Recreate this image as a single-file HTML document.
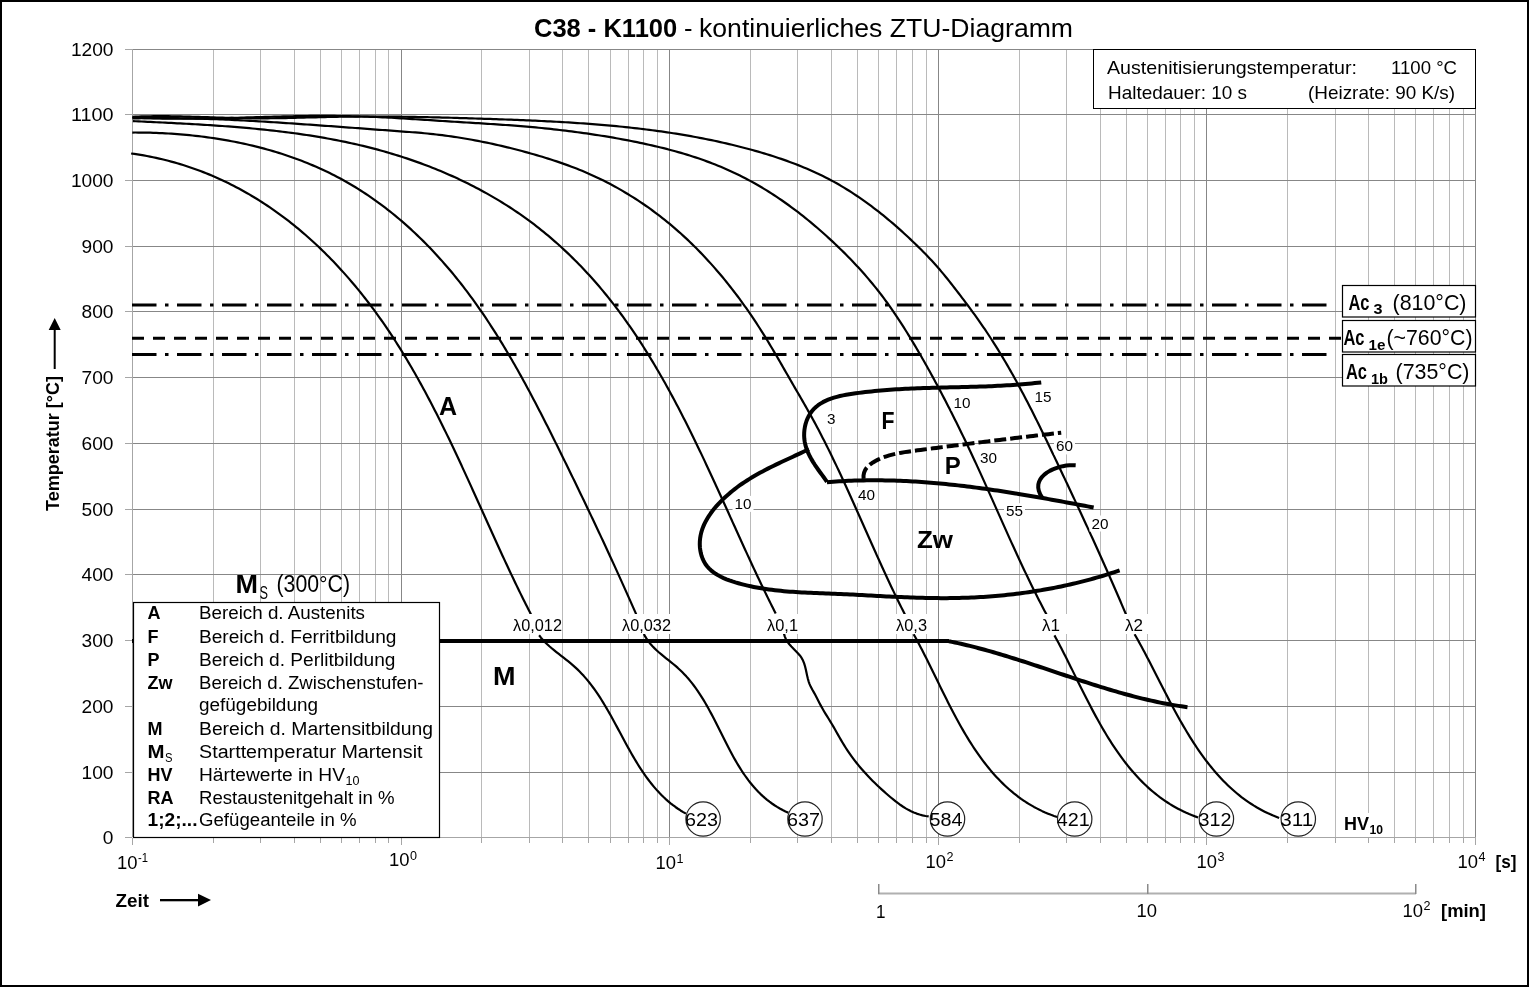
<!DOCTYPE html>
<html><head><meta charset="utf-8"><style>html,body{margin:0;padding:0;background:#fff;overflow:hidden}svg{display:block;will-change:transform}text{fill:#000}</style></head>
<body><svg width="1529" height="987" viewBox="0 0 1529 987" font-family='"Liberation Sans", sans-serif' >
<rect x="0" y="0" width="1529" height="987" fill="#fff"/>
<rect x="132" y="49" width="1" height="788" fill="#a6a6a6"/>
<rect x="132" y="838" width="1" height="7" fill="#a6a6a6"/>
<rect x="213" y="49" width="1" height="788" fill="#bababa"/>
<rect x="213" y="838" width="1" height="5" fill="#a6a6a6"/>
<rect x="260" y="49" width="1" height="788" fill="#bababa"/>
<rect x="260" y="838" width="1" height="5" fill="#a6a6a6"/>
<rect x="294" y="49" width="1" height="788" fill="#bababa"/>
<rect x="294" y="838" width="1" height="5" fill="#a6a6a6"/>
<rect x="320" y="49" width="1" height="788" fill="#bababa"/>
<rect x="320" y="838" width="1" height="5" fill="#a6a6a6"/>
<rect x="341" y="49" width="1" height="788" fill="#bababa"/>
<rect x="341" y="838" width="1" height="5" fill="#a6a6a6"/>
<rect x="359" y="49" width="1" height="788" fill="#bababa"/>
<rect x="359" y="838" width="1" height="5" fill="#a6a6a6"/>
<rect x="375" y="49" width="1" height="788" fill="#bababa"/>
<rect x="375" y="838" width="1" height="5" fill="#a6a6a6"/>
<rect x="388" y="49" width="1" height="788" fill="#bababa"/>
<rect x="388" y="838" width="1" height="5" fill="#a6a6a6"/>
<rect x="401" y="49" width="1" height="788" fill="#878787"/>
<rect x="401" y="838" width="1" height="7" fill="#a6a6a6"/>
<rect x="481" y="49" width="1" height="788" fill="#bababa"/>
<rect x="481" y="838" width="1" height="5" fill="#a6a6a6"/>
<rect x="529" y="49" width="1" height="788" fill="#bababa"/>
<rect x="529" y="838" width="1" height="5" fill="#a6a6a6"/>
<rect x="562" y="49" width="1" height="788" fill="#bababa"/>
<rect x="562" y="838" width="1" height="5" fill="#a6a6a6"/>
<rect x="588" y="49" width="1" height="788" fill="#bababa"/>
<rect x="588" y="838" width="1" height="5" fill="#a6a6a6"/>
<rect x="610" y="49" width="1" height="788" fill="#bababa"/>
<rect x="610" y="838" width="1" height="5" fill="#a6a6a6"/>
<rect x="628" y="49" width="1" height="788" fill="#bababa"/>
<rect x="628" y="838" width="1" height="5" fill="#a6a6a6"/>
<rect x="643" y="49" width="1" height="788" fill="#bababa"/>
<rect x="643" y="838" width="1" height="5" fill="#a6a6a6"/>
<rect x="657" y="49" width="1" height="788" fill="#bababa"/>
<rect x="657" y="838" width="1" height="5" fill="#a6a6a6"/>
<rect x="669" y="49" width="1" height="788" fill="#878787"/>
<rect x="669" y="838" width="1" height="7" fill="#a6a6a6"/>
<rect x="750" y="49" width="1" height="788" fill="#bababa"/>
<rect x="750" y="838" width="1" height="5" fill="#a6a6a6"/>
<rect x="797" y="49" width="1" height="788" fill="#bababa"/>
<rect x="797" y="838" width="1" height="5" fill="#a6a6a6"/>
<rect x="831" y="49" width="1" height="788" fill="#bababa"/>
<rect x="831" y="838" width="1" height="5" fill="#a6a6a6"/>
<rect x="857" y="49" width="1" height="788" fill="#bababa"/>
<rect x="857" y="838" width="1" height="5" fill="#a6a6a6"/>
<rect x="878" y="49" width="1" height="788" fill="#bababa"/>
<rect x="878" y="838" width="1" height="5" fill="#a6a6a6"/>
<rect x="896" y="49" width="1" height="788" fill="#bababa"/>
<rect x="896" y="838" width="1" height="5" fill="#a6a6a6"/>
<rect x="912" y="49" width="1" height="788" fill="#bababa"/>
<rect x="912" y="838" width="1" height="5" fill="#a6a6a6"/>
<rect x="926" y="49" width="1" height="788" fill="#bababa"/>
<rect x="926" y="838" width="1" height="5" fill="#a6a6a6"/>
<rect x="938" y="49" width="1" height="788" fill="#878787"/>
<rect x="938" y="838" width="1" height="7" fill="#a6a6a6"/>
<rect x="1019" y="49" width="1" height="788" fill="#bababa"/>
<rect x="1019" y="838" width="1" height="5" fill="#a6a6a6"/>
<rect x="1066" y="49" width="1" height="788" fill="#bababa"/>
<rect x="1066" y="838" width="1" height="5" fill="#a6a6a6"/>
<rect x="1100" y="49" width="1" height="788" fill="#bababa"/>
<rect x="1100" y="838" width="1" height="5" fill="#a6a6a6"/>
<rect x="1126" y="49" width="1" height="788" fill="#bababa"/>
<rect x="1126" y="838" width="1" height="5" fill="#a6a6a6"/>
<rect x="1147" y="49" width="1" height="788" fill="#bababa"/>
<rect x="1147" y="838" width="1" height="5" fill="#a6a6a6"/>
<rect x="1165" y="49" width="1" height="788" fill="#bababa"/>
<rect x="1165" y="838" width="1" height="5" fill="#a6a6a6"/>
<rect x="1180" y="49" width="1" height="788" fill="#bababa"/>
<rect x="1180" y="838" width="1" height="5" fill="#a6a6a6"/>
<rect x="1194" y="49" width="1" height="788" fill="#bababa"/>
<rect x="1194" y="838" width="1" height="5" fill="#a6a6a6"/>
<rect x="1206" y="49" width="1" height="788" fill="#878787"/>
<rect x="1206" y="838" width="1" height="7" fill="#a6a6a6"/>
<rect x="1287" y="49" width="1" height="788" fill="#bababa"/>
<rect x="1287" y="838" width="1" height="5" fill="#a6a6a6"/>
<rect x="1335" y="49" width="1" height="788" fill="#bababa"/>
<rect x="1335" y="838" width="1" height="5" fill="#a6a6a6"/>
<rect x="1368" y="49" width="1" height="788" fill="#bababa"/>
<rect x="1368" y="838" width="1" height="5" fill="#a6a6a6"/>
<rect x="1394" y="49" width="1" height="788" fill="#bababa"/>
<rect x="1394" y="838" width="1" height="5" fill="#a6a6a6"/>
<rect x="1415" y="49" width="1" height="788" fill="#bababa"/>
<rect x="1415" y="838" width="1" height="5" fill="#a6a6a6"/>
<rect x="1433" y="49" width="1" height="788" fill="#bababa"/>
<rect x="1433" y="838" width="1" height="5" fill="#a6a6a6"/>
<rect x="1449" y="49" width="1" height="788" fill="#bababa"/>
<rect x="1449" y="838" width="1" height="5" fill="#a6a6a6"/>
<rect x="1463" y="49" width="1" height="788" fill="#bababa"/>
<rect x="1463" y="838" width="1" height="5" fill="#a6a6a6"/>
<rect x="1475" y="49" width="1" height="788" fill="#878787"/>
<rect x="1475" y="838" width="1" height="7" fill="#a6a6a6"/>
<rect x="125" y="837" width="7" height="1" fill="#a6a6a6"/>
<rect x="133" y="837" width="1343" height="1" fill="#a6a6a6"/>
<rect x="125" y="772" width="7" height="1" fill="#a6a6a6"/>
<rect x="133" y="772" width="1343" height="1" fill="#878787"/>
<rect x="125" y="706" width="7" height="1" fill="#a6a6a6"/>
<rect x="133" y="706" width="1343" height="1" fill="#878787"/>
<rect x="125" y="640" width="7" height="1" fill="#a6a6a6"/>
<rect x="133" y="640" width="1343" height="1" fill="#878787"/>
<rect x="125" y="574" width="7" height="1" fill="#a6a6a6"/>
<rect x="133" y="574" width="1343" height="1" fill="#878787"/>
<rect x="125" y="509" width="7" height="1" fill="#a6a6a6"/>
<rect x="133" y="509" width="1343" height="1" fill="#878787"/>
<rect x="125" y="443" width="7" height="1" fill="#a6a6a6"/>
<rect x="133" y="443" width="1343" height="1" fill="#878787"/>
<rect x="125" y="377" width="7" height="1" fill="#a6a6a6"/>
<rect x="133" y="377" width="1343" height="1" fill="#878787"/>
<rect x="125" y="311" width="7" height="1" fill="#a6a6a6"/>
<rect x="133" y="311" width="1343" height="1" fill="#878787"/>
<rect x="125" y="246" width="7" height="1" fill="#a6a6a6"/>
<rect x="133" y="246" width="1343" height="1" fill="#878787"/>
<rect x="125" y="180" width="7" height="1" fill="#a6a6a6"/>
<rect x="133" y="180" width="1343" height="1" fill="#878787"/>
<rect x="125" y="114" width="7" height="1" fill="#a6a6a6"/>
<rect x="133" y="114" width="1343" height="1" fill="#878787"/>
<rect x="125" y="49" width="7" height="1" fill="#a6a6a6"/>
<rect x="133" y="49" width="1343" height="1" fill="#878787"/>
<text x="113.5" y="843.5" font-size="18.5" text-anchor="end" textLength="10.65" lengthAdjust="spacingAndGlyphs">0</text>
<text x="113.5" y="778.5" font-size="18.5" text-anchor="end" textLength="31.95" lengthAdjust="spacingAndGlyphs">100</text>
<text x="113.5" y="712.5" font-size="18.5" text-anchor="end" textLength="31.95" lengthAdjust="spacingAndGlyphs">200</text>
<text x="113.5" y="646.5" font-size="18.5" text-anchor="end" textLength="31.95" lengthAdjust="spacingAndGlyphs">300</text>
<text x="113.5" y="580.5" font-size="18.5" text-anchor="end" textLength="31.95" lengthAdjust="spacingAndGlyphs">400</text>
<text x="113.5" y="515.5" font-size="18.5" text-anchor="end" textLength="31.95" lengthAdjust="spacingAndGlyphs">500</text>
<text x="113.5" y="449.5" font-size="18.5" text-anchor="end" textLength="31.95" lengthAdjust="spacingAndGlyphs">600</text>
<text x="113.5" y="383.5" font-size="18.5" text-anchor="end" textLength="31.95" lengthAdjust="spacingAndGlyphs">700</text>
<text x="113.5" y="317.5" font-size="18.5" text-anchor="end" textLength="31.95" lengthAdjust="spacingAndGlyphs">800</text>
<text x="113.5" y="252.5" font-size="18.5" text-anchor="end" textLength="31.95" lengthAdjust="spacingAndGlyphs">900</text>
<text x="113.5" y="186.5" font-size="18.5" text-anchor="end" textLength="42.6" lengthAdjust="spacingAndGlyphs">1000</text>
<text x="113.5" y="120.5" font-size="18.5" text-anchor="end" textLength="42.6" lengthAdjust="spacingAndGlyphs">1100</text>
<text x="113.5" y="55.5" font-size="18.5" text-anchor="end" textLength="42.6" lengthAdjust="spacingAndGlyphs">1200</text>
<text x="534" y="37" font-size="25.5" font-weight="bold">C38 - K1100</text>
<text x="684" y="37" font-size="25.5">-</text>
<text x="699" y="37" font-size="25.5" textLength="374" lengthAdjust="spacingAndGlyphs">kontinuierliches ZTU-Diagramm</text>
<rect x="1093.5" y="49.5" width="382" height="59" fill="#fff" stroke="#000" stroke-width="1"/>
<text x="1107" y="74" font-size="18.5" textLength="250" lengthAdjust="spacingAndGlyphs">Austenitisierungstemperatur:</text>
<text x="1391" y="74" font-size="18.5" textLength="66" lengthAdjust="spacingAndGlyphs">1100 °C</text>
<text x="1108" y="98.6" font-size="18.5" textLength="139" lengthAdjust="spacingAndGlyphs">Haltedauer: 10 s</text>
<text x="1308" y="98.6" font-size="18.5" textLength="147" lengthAdjust="spacingAndGlyphs">(Heizrate: 90 K/s)</text>
<path d="M131.13,153.49 L134.31,153.93 L137.47,154.41 L140.62,154.91 L143.75,155.45 L146.87,156.01 L149.97,156.61 L153.06,157.23 L156.13,157.89 L159.19,158.57 L162.23,159.28 L165.26,160.02 L168.27,160.79 L171.27,161.58 L174.26,162.40 L177.23,163.26 L180.18,164.13 L183.12,165.04 L186.05,165.97 L188.96,166.93 L191.86,167.92 L194.74,168.93 L197.61,169.97 L200.46,171.04 L203.30,172.13 L206.12,173.24 L208.93,174.39 L211.72,175.55 L214.50,176.74 L217.27,177.96 L220.02,179.20 L222.75,180.47 L225.48,181.76 L228.18,183.07 L230.88,184.41 L233.55,185.77 L236.22,187.15 L238.87,188.56 L241.50,189.99 L244.12,191.44 L246.73,192.92 L249.32,194.41 L251.90,195.93 L254.46,197.48 L257.01,199.04 L259.55,200.62 L262.07,202.23 L264.57,203.85 L267.07,205.50 L269.54,207.17 L272.01,208.86 L274.46,210.56 L276.89,212.29 L279.31,214.04 L281.72,215.81 L284.11,217.59 L286.49,219.40 L288.86,221.22 L291.21,223.07 L293.54,224.93 L295.86,226.81 L298.17,228.71 L300.47,230.62 L302.75,232.56 L305.01,234.51 L307.26,236.48 L309.50,238.46 L311.73,240.46 L313.94,242.48 L316.13,244.52 L318.31,246.57 L320.48,248.63 L322.64,250.72 L324.78,252.82 L326.90,254.93 L329.02,257.06 L331.11,259.20 L333.20,261.36 L335.27,263.53 L337.33,265.72 L339.37,267.92 L341.40,270.14 L343.42,272.37 L345.42,274.61 L347.41,276.86 L349.38,279.13 L351.34,281.41 L353.29,283.71 L355.23,286.01 L357.15,288.33 L359.05,290.66 L360.94,293.00 L362.82,295.36 L364.69,297.72 L366.54,300.10 L368.38,302.49 L370.20,304.89 L372.02,307.29 L373.81,309.71 L375.60,312.14 L377.37,314.58 L379.13,317.03 L380.87,319.49 L382.60,321.96 L384.32,324.43 L386.02,326.92 L387.72,329.41 L389.40,331.92 L391.06,334.43 L392.72,336.95 L394.36,339.48 L395.99,342.02 L397.61,344.56 L399.22,347.12 L400.82,349.68 L402.40,352.25 L403.98,354.82 L405.54,357.41 L407.10,360.00 L408.64,362.59 L410.18,365.20 L411.70,367.81 L413.21,370.43 L414.72,373.05 L416.21,375.68 L417.70,378.32 L419.17,380.96 L420.64,383.61 L422.10,386.27 L423.55,388.93 L424.99,391.59 L426.42,394.26 L427.85,396.94 L429.26,399.62 L430.67,402.31 L432.07,405.00 L433.47,407.69 L434.85,410.39 L436.23,413.09 L437.61,415.80 L438.97,418.51 L440.33,421.23 L441.69,423.95 L443.03,426.67 L444.38,429.40 L445.71,432.13 L447.04,434.86 L448.37,437.60 L449.69,440.33 L451.00,443.07 L452.31,445.82 L453.61,448.56 L454.91,451.31 L456.21,454.06 L457.50,456.81 L458.79,459.57 L460.07,462.32 L461.35,465.08 L462.62,467.84 L463.90,470.60 L465.17,473.36 L466.43,476.12 L467.70,478.88 L468.96,481.64 L470.22,484.41 L471.47,487.17 L472.73,489.93 L473.98,492.70 L475.23,495.46 L476.48,498.22 L477.72,500.99 L478.97,503.75 L480.22,506.51 L481.46,509.27 L482.70,512.03 L483.95,514.79 L485.19,517.54 L486.43,520.30 L487.67,523.05 L488.91,525.81 L490.16,528.56 L491.40,531.31 L492.64,534.05 L493.89,536.80 L495.13,539.54 L496.38,542.28 L497.63,545.01 L498.88,547.74 L500.13,550.47 L501.38,553.20 L502.64,555.92 L503.90,558.64 L505.16,561.36 L506.42,564.07 L507.69,566.78 L508.96,569.49 L510.23,572.19 L511.50,574.88 L512.78,577.57 L514.06,580.26 L515.35,582.94 L516.64,585.62 L517.93,588.29 L519.23,590.96 L520.54,593.62 L521.84,596.27 L523.16,598.92 L524.47,601.57 L525.80,604.21 L527.13,606.84 L528.46,609.46 L529.80,612.08 L531.15,614.70" fill="none" stroke="#000" stroke-width="2.2" stroke-linejoin="round"/>
<path d="M539.09,635.31 L540.97,637.66 L542.95,639.92 L545.02,642.10 L547.18,644.20 L549.40,646.24 L551.69,648.22 L554.02,650.16 L556.39,652.06 L558.78,653.94 L561.18,655.81 L563.59,657.68 L565.99,659.55 L568.37,661.45 L570.72,663.37 L573.02,665.32 L575.27,667.33 L577.46,669.39 L579.59,671.50 L581.67,673.66 L583.70,675.86 L585.67,678.11 L587.60,680.40 L589.48,682.73 L591.33,685.11 L593.12,687.51 L594.89,689.96 L596.61,692.43 L598.30,694.94 L599.96,697.47 L601.59,700.03 L603.20,702.61 L604.78,705.22 L606.34,707.85 L607.87,710.49 L609.39,713.16 L610.90,715.83 L612.39,718.52 L613.87,721.22 L615.34,723.93 L616.80,726.64 L618.26,729.36 L619.72,732.08 L621.18,734.81 L622.63,737.53 L624.10,740.25 L625.56,742.96 L627.04,745.66 L628.53,748.36 L630.03,751.05 L631.54,753.72 L633.07,756.37 L634.62,759.01 L636.19,761.63 L637.79,764.23 L639.41,766.81 L641.06,769.36 L642.74,771.88 L644.45,774.38 L646.19,776.84 L647.97,779.27 L649.79,781.67 L651.66,784.03 L653.56,786.35 L655.51,788.63 L657.50,790.87 L659.55,793.06 L661.65,795.20 L663.80,797.30 L666.01,799.35 L668.27,801.34 L670.60,803.28 L672.99,805.16 L675.44,806.98 L677.96,808.75 L680.55,810.45 L683.21,812.08 L685.94,813.65" fill="none" stroke="#000" stroke-width="2.2" stroke-linejoin="round"/>
<path d="M132.27,132.53 L135.25,132.52 L138.23,132.53 L141.23,132.56 L144.22,132.60 L147.22,132.65 L150.22,132.72 L153.23,132.81 L156.23,132.91 L159.25,133.03 L162.26,133.17 L165.28,133.33 L168.29,133.50 L171.31,133.68 L174.33,133.89 L177.35,134.11 L180.38,134.35 L183.40,134.61 L186.42,134.88 L189.45,135.17 L192.47,135.48 L195.49,135.81 L198.51,136.16 L201.53,136.52 L204.55,136.91 L207.57,137.31 L210.58,137.73 L213.60,138.17 L216.61,138.63 L219.62,139.11 L222.62,139.60 L225.62,140.12 L228.62,140.66 L231.62,141.21 L234.61,141.79 L237.59,142.39 L240.57,143.00 L243.55,143.64 L246.52,144.30 L249.49,144.97 L252.45,145.67 L255.40,146.39 L258.35,147.13 L261.29,147.89 L264.23,148.67 L267.15,149.48 L270.07,150.30 L272.99,151.15 L275.89,152.02 L278.79,152.91 L281.68,153.82 L284.56,154.76 L287.43,155.72 L290.29,156.70 L293.14,157.70 L295.99,158.72 L298.82,159.77 L301.64,160.84 L304.45,161.94 L307.25,163.05 L310.04,164.20 L312.82,165.36 L315.59,166.55 L318.34,167.76 L321.08,169.00 L323.82,170.26 L326.53,171.54 L329.24,172.85 L331.93,174.19 L334.61,175.54 L337.27,176.93 L339.92,178.34 L342.56,179.77 L345.18,181.23 L347.78,182.71 L350.38,184.21 L352.95,185.75 L355.52,187.30 L358.07,188.88 L360.60,190.48 L363.12,192.10 L365.63,193.75 L368.12,195.41 L370.60,197.10 L373.06,198.82 L375.51,200.55 L377.95,202.30 L380.37,204.08 L382.77,205.87 L385.16,207.69 L387.54,209.52 L389.90,211.38 L392.25,213.26 L394.58,215.15 L396.90,217.06 L399.20,219.00 L401.49,220.95 L403.76,222.92 L406.02,224.90 L408.27,226.91 L410.50,228.93 L412.71,230.97 L414.91,233.02 L417.10,235.09 L419.27,237.18 L421.42,239.28 L423.56,241.40 L425.69,243.54 L427.80,245.69 L429.90,247.85 L431.98,250.03 L434.05,252.23 L436.10,254.43 L438.14,256.66 L440.16,258.89 L442.17,261.14 L444.16,263.40 L446.14,265.67 L448.10,267.96 L450.05,270.26 L451.98,272.57 L453.90,274.89 L455.80,277.22 L457.69,279.57 L459.56,281.92 L461.42,284.29 L463.27,286.67 L465.10,289.05 L466.92,291.45 L468.73,293.86 L470.52,296.28 L472.30,298.71 L474.07,301.15 L475.83,303.60 L477.57,306.06 L479.30,308.52 L481.02,311.00 L482.72,313.48 L484.42,315.98 L486.10,318.48 L487.77,320.99 L489.43,323.51 L491.08,326.04 L492.72,328.57 L494.35,331.12 L495.97,333.67 L497.58,336.23 L499.18,338.79 L500.77,341.36 L502.34,343.94 L503.91,346.53 L505.47,349.12 L507.02,351.72 L508.57,354.32 L510.10,356.94 L511.62,359.55 L513.14,362.18 L514.65,364.80 L516.15,367.44 L517.64,370.07 L519.12,372.72 L520.60,375.37 L522.07,378.02 L523.53,380.68 L524.98,383.34 L526.43,386.00 L527.87,388.67 L529.31,391.35 L530.74,394.02 L532.16,396.71 L533.58,399.39 L534.99,402.08 L536.40,404.77 L537.80,407.46 L539.19,410.15 L540.58,412.85 L541.97,415.55 L543.35,418.25 L544.73,420.96 L546.10,423.66 L547.47,426.37 L548.83,429.08 L550.19,431.79 L551.55,434.50 L552.90,437.21 L554.25,439.92 L555.60,442.63 L556.95,445.35 L558.29,448.06 L559.63,450.77 L560.97,453.48 L562.30,456.20 L563.63,458.91 L564.97,461.62 L566.30,464.33 L567.62,467.04 L568.95,469.75 L570.27,472.47 L571.59,475.18 L572.91,477.89 L574.23,480.60 L575.55,483.31 L576.86,486.02 L578.17,488.73 L579.48,491.44 L580.79,494.15 L582.09,496.86 L583.40,499.57 L584.70,502.29 L586.00,505.00 L587.29,507.71 L588.59,510.43 L589.88,513.14 L591.17,515.85 L592.46,518.57 L593.75,521.29 L595.03,524.00 L596.32,526.72 L597.60,529.44 L598.88,532.16 L600.15,534.88 L601.43,537.60 L602.70,540.32 L603.97,543.05 L605.24,545.77 L606.50,548.50 L607.77,551.23 L609.03,553.96 L610.29,556.69 L611.55,559.42 L612.80,562.15 L614.06,564.89 L615.31,567.62 L616.56,570.36 L617.80,573.10 L619.05,575.84 L620.29,578.59 L621.53,581.33 L622.77,584.08 L624.01,586.83 L625.24,589.58 L626.47,592.33 L627.70,595.09 L628.93,597.84 L630.16,600.60 L631.38,603.36 L632.60,606.13 L633.82,608.89 L635.04,611.66 L636.25,614.43" fill="none" stroke="#000" stroke-width="2.2" stroke-linejoin="round"/>
<path d="M643.85,633.94 L645.29,636.65 L646.89,639.22 L648.64,641.67 L650.52,644.01 L652.52,646.24 L654.62,648.39 L656.80,650.47 L659.06,652.49 L661.37,654.45 L663.73,656.39 L666.10,658.29 L668.49,660.19 L670.87,662.09 L673.23,664.01 L675.55,665.95 L677.82,667.94 L680.03,669.97 L682.17,672.06 L684.25,674.19 L686.27,676.37 L688.23,678.60 L690.14,680.87 L691.99,683.18 L693.80,685.54 L695.56,687.93 L697.28,690.36 L698.96,692.83 L700.60,695.33 L702.20,697.86 L703.77,700.42 L705.31,703.01 L706.82,705.63 L708.31,708.28 L709.77,710.94 L711.22,713.63 L712.64,716.34 L714.06,719.06 L715.46,721.79 L716.85,724.54 L718.23,727.29 L719.61,730.05 L720.99,732.81 L722.37,735.58 L723.75,738.34 L725.14,741.10 L726.53,743.85 L727.94,746.59 L729.36,749.33 L730.80,752.05 L732.26,754.75 L733.74,757.43 L735.25,760.10 L736.78,762.74 L738.34,765.35 L739.93,767.94 L741.56,770.49 L743.23,773.02 L744.93,775.50 L746.68,777.95 L748.47,780.36 L750.32,782.73 L752.21,785.05 L754.15,787.32 L756.16,789.54 L758.22,791.71 L760.34,793.83 L762.52,795.89 L764.77,797.89 L767.09,799.82 L769.48,801.69 L771.95,803.50 L774.49,805.23 L777.11,806.90 L779.81,808.48 L782.60,810.00 L785.47,811.43 L788.43,812.78" fill="none" stroke="#000" stroke-width="2.2" stroke-linejoin="round"/>
<path d="M132.82,121.09 L135.75,121.23 L138.69,121.37 L141.63,121.52 L144.58,121.66 L147.53,121.80 L150.48,121.94 L153.44,122.09 L156.40,122.23 L159.36,122.38 L162.33,122.52 L165.30,122.67 L168.27,122.82 L171.25,122.97 L174.23,123.12 L177.21,123.28 L180.19,123.44 L183.18,123.60 L186.17,123.76 L189.16,123.92 L192.16,124.09 L195.15,124.27 L198.15,124.44 L201.15,124.62 L204.16,124.81 L207.16,125.00 L210.17,125.19 L213.17,125.39 L216.18,125.59 L219.19,125.80 L222.20,126.01 L225.21,126.23 L228.23,126.45 L231.24,126.68 L234.26,126.92 L237.27,127.16 L240.29,127.41 L243.30,127.67 L246.32,127.93 L249.34,128.20 L252.35,128.48 L255.37,128.77 L258.39,129.06 L261.40,129.36 L264.42,129.67 L267.44,129.99 L270.45,130.32 L273.47,130.65 L276.48,131.00 L279.49,131.35 L282.50,131.72 L285.52,132.09 L288.53,132.48 L291.53,132.87 L294.54,133.27 L297.55,133.69 L300.55,134.12 L303.55,134.55 L306.55,135.00 L309.55,135.46 L312.55,135.93 L315.54,136.41 L318.54,136.91 L321.53,137.42 L324.51,137.94 L327.50,138.47 L330.48,139.02 L333.46,139.57 L336.44,140.15 L339.41,140.73 L342.38,141.33 L345.35,141.94 L348.31,142.57 L351.27,143.21 L354.23,143.87 L357.18,144.54 L360.13,145.23 L363.08,145.93 L366.02,146.65 L368.96,147.38 L371.89,148.13 L374.82,148.89 L377.75,149.67 L380.67,150.47 L383.58,151.29 L386.49,152.12 L389.40,152.96 L392.30,153.83 L395.20,154.71 L398.09,155.60 L400.97,156.52 L403.85,157.45 L406.72,158.39 L409.59,159.36 L412.45,160.34 L415.30,161.34 L418.15,162.35 L420.99,163.38 L423.82,164.43 L426.64,165.50 L429.46,166.58 L432.27,167.68 L435.07,168.80 L437.87,169.94 L440.66,171.09 L443.43,172.26 L446.20,173.45 L448.97,174.65 L451.72,175.87 L454.46,177.11 L457.20,178.37 L459.92,179.64 L462.64,180.94 L465.35,182.25 L468.04,183.58 L470.73,184.92 L473.41,186.29 L476.07,187.67 L478.73,189.07 L481.37,190.48 L484.01,191.92 L486.63,193.37 L489.25,194.85 L491.85,196.34 L494.44,197.85 L497.02,199.37 L499.58,200.92 L502.14,202.48 L504.68,204.06 L507.21,205.66 L509.73,207.28 L512.23,208.92 L514.72,210.57 L517.20,212.25 L519.67,213.94 L522.12,215.65 L524.56,217.38 L526.99,219.13 L529.40,220.90 L531.80,222.69 L534.18,224.49 L536.55,226.32 L538.91,228.16 L541.25,230.02 L543.58,231.90 L545.89,233.79 L548.19,235.70 L550.48,237.63 L552.75,239.58 L555.00,241.55 L557.25,243.53 L559.48,245.52 L561.69,247.54 L563.89,249.57 L566.07,251.61 L568.25,253.67 L570.40,255.75 L572.54,257.84 L574.67,259.95 L576.78,262.07 L578.88,264.20 L580.97,266.35 L583.03,268.52 L585.09,270.70 L587.13,272.89 L589.15,275.10 L591.16,277.32 L593.16,279.55 L595.14,281.79 L597.10,284.05 L599.06,286.33 L600.99,288.61 L602.91,290.91 L604.82,293.21 L606.71,295.54 L608.59,297.87 L610.45,300.21 L612.30,302.57 L614.14,304.94 L615.96,307.31 L617.76,309.70 L619.56,312.10 L621.34,314.52 L623.11,316.94 L624.86,319.37 L626.61,321.81 L628.34,324.26 L630.06,326.73 L631.76,329.20 L633.45,331.68 L635.14,334.17 L636.81,336.67 L638.46,339.18 L640.11,341.70 L641.75,344.22 L643.37,346.76 L644.98,349.30 L646.58,351.86 L648.18,354.42 L649.76,356.99 L651.33,359.56 L652.89,362.15 L654.44,364.74 L655.98,367.34 L657.51,369.94 L659.03,372.56 L660.54,375.18 L662.05,377.80 L663.54,380.43 L665.03,383.07 L666.50,385.72 L667.97,388.37 L669.43,391.03 L670.88,393.69 L672.32,396.36 L673.76,399.03 L675.19,401.71 L676.60,404.40 L678.02,407.09 L679.42,409.78 L680.82,412.48 L682.21,415.18 L683.59,417.89 L684.97,420.60 L686.34,423.32 L687.71,426.04 L689.06,428.76 L690.42,431.49 L691.76,434.21 L693.10,436.95 L694.44,439.68 L695.77,442.42 L697.09,445.16 L698.41,447.91 L699.73,450.65 L701.04,453.40 L702.34,456.15 L703.64,458.90 L704.94,461.65 L706.23,464.41 L707.52,467.17 L708.80,469.92 L710.09,472.68 L711.36,475.44 L712.64,478.20 L713.91,480.96 L715.18,483.72 L716.44,486.48 L717.71,489.25 L718.97,492.01 L720.22,494.77 L721.48,497.53 L722.73,500.29 L723.99,503.05 L725.24,505.81 L726.49,508.56 L727.73,511.32 L728.98,514.07 L730.22,516.83 L731.47,519.58 L732.71,522.33 L733.95,525.07 L735.20,527.82 L736.44,530.56 L737.68,533.30 L738.92,536.04 L740.17,538.77 L741.41,541.51 L742.65,544.24 L743.90,546.96 L745.14,549.68 L746.39,552.40 L747.64,555.11 L748.89,557.82 L750.14,560.53 L751.39,563.23 L752.64,565.93 L753.90,568.62 L755.16,571.31 L756.42,573.99 L757.68,576.67 L758.94,579.34 L760.21,582.01 L761.48,584.67 L762.76,587.33 L764.03,589.98 L765.32,592.62 L766.60,595.26 L767.89,597.89 L769.18,600.52 L770.48,603.13 L771.78,605.75 L773.08,608.35 L774.39,610.95 L775.71,613.54" fill="none" stroke="#000" stroke-width="2.2" stroke-linejoin="round"/>
<path d="M913.64,634.24 L915.06,636.78 L916.46,639.34 L917.85,641.92 L919.24,644.53 L920.62,647.15 L921.99,649.80 L923.36,652.46 L924.72,655.14 L926.07,657.83 L927.43,660.54 L928.78,663.26 L930.13,665.99 L931.48,668.74 L932.83,671.49 L934.19,674.26 L935.54,677.03 L936.90,679.80 L938.25,682.59 L939.62,685.37 L940.99,688.17 L942.36,690.96 L943.74,693.75 L945.13,696.55 L946.53,699.34 L947.94,702.13 L949.35,704.91 L950.78,707.69 L952.22,710.47 L953.67,713.24 L955.13,716.00 L956.61,718.75 L958.11,721.49 L959.61,724.22 L961.14,726.94 L962.68,729.64 L964.25,732.33 L965.83,735.00 L967.43,737.66 L969.05,740.30 L970.69,742.92 L972.35,745.51 L974.04,748.09 L975.75,750.64 L977.49,753.17 L979.25,755.68 L981.04,758.16 L982.85,760.61 L984.70,763.03 L986.57,765.43 L988.47,767.79 L990.40,770.12 L992.37,772.42 L994.36,774.68 L996.39,776.91 L998.45,779.11 L1000.55,781.26 L1002.68,783.38 L1004.85,785.46 L1007.06,787.50 L1009.30,789.49 L1011.58,791.45 L1013.90,793.36 L1016.27,795.22 L1018.67,797.04 L1021.11,798.81 L1023.60,800.53 L1026.13,802.20 L1028.71,803.82 L1031.33,805.39 L1033.99,806.91 L1036.71,808.37 L1039.47,809.78 L1042.28,811.13 L1045.14,812.42 L1048.05,813.65 L1051.01,814.83 L1054.02,815.94 L1057.08,816.99" fill="none" stroke="#000" stroke-width="2.2" stroke-linejoin="round"/>
<path d="M1054.45,635.39 L1055.84,637.94 L1057.22,640.50 L1058.60,643.09 L1059.97,645.70 L1061.34,648.33 L1062.71,650.98 L1064.07,653.64 L1065.42,656.31 L1066.78,659.00 L1068.13,661.71 L1069.49,664.42 L1070.84,667.15 L1072.20,669.88 L1073.55,672.63 L1074.91,675.38 L1076.28,678.14 L1077.64,680.91 L1079.01,683.68 L1080.39,686.45 L1081.77,689.22 L1083.16,692.00 L1084.56,694.78 L1085.97,697.55 L1087.38,700.32 L1088.81,703.10 L1090.25,705.86 L1091.69,708.62 L1093.15,711.38 L1094.63,714.13 L1096.11,716.86 L1097.61,719.59 L1099.13,722.31 L1100.66,725.02 L1102.21,727.72 L1103.77,730.40 L1105.36,733.06 L1106.96,735.71 L1108.58,738.35 L1110.23,740.96 L1111.89,743.56 L1113.58,746.13 L1115.28,748.69 L1117.02,751.22 L1118.77,753.73 L1120.55,756.21 L1122.36,758.67 L1124.19,761.10 L1126.05,763.51 L1127.93,765.88 L1129.85,768.23 L1131.79,770.54 L1133.77,772.83 L1135.77,775.08 L1137.81,777.29 L1139.88,779.47 L1141.98,781.62 L1144.12,783.72 L1146.29,785.79 L1148.49,787.82 L1150.73,789.81 L1153.01,791.75 L1155.33,793.66 L1157.68,795.51 L1160.07,797.33 L1162.51,799.10 L1164.98,800.82 L1167.49,802.49 L1170.05,804.12 L1172.65,805.69 L1175.29,807.21 L1177.97,808.68 L1180.70,810.10 L1183.48,811.46 L1186.30,812.77 L1189.17,814.02 L1192.09,815.21 L1195.05,816.35 L1198.07,817.42" fill="none" stroke="#000" stroke-width="2.2" stroke-linejoin="round"/>
<path d="M1134.59,634.26 L1136.04,636.77 L1137.48,639.31 L1138.90,641.87 L1140.33,644.46 L1141.74,647.06 L1143.15,649.68 L1144.56,652.32 L1145.96,654.98 L1147.36,657.65 L1148.76,660.34 L1150.16,663.04 L1151.55,665.75 L1152.95,668.47 L1154.35,671.21 L1155.74,673.95 L1157.14,676.70 L1158.55,679.46 L1159.95,682.22 L1161.36,684.99 L1162.78,687.76 L1164.20,690.54 L1165.63,693.32 L1167.07,696.09 L1168.51,698.87 L1169.96,701.64 L1171.43,704.42 L1172.90,707.19 L1174.38,709.95 L1175.88,712.71 L1177.39,715.46 L1178.91,718.20 L1180.45,720.93 L1182.00,723.65 L1183.56,726.36 L1185.15,729.06 L1186.75,731.75 L1188.36,734.42 L1190.00,737.07 L1191.66,739.71 L1193.33,742.33 L1195.03,744.93 L1196.74,747.51 L1198.48,750.07 L1200.25,752.61 L1202.03,755.12 L1203.84,757.61 L1205.68,760.08 L1207.54,762.51 L1209.43,764.92 L1211.35,767.30 L1213.29,769.66 L1215.26,771.98 L1217.27,774.26 L1219.30,776.52 L1221.36,778.74 L1223.46,780.93 L1225.59,783.08 L1227.75,785.19 L1229.95,787.26 L1232.18,789.30 L1234.44,791.29 L1236.75,793.24 L1239.09,795.15 L1241.46,797.02 L1243.88,798.84 L1246.33,800.61 L1248.83,802.34 L1251.37,804.02 L1253.94,805.65 L1256.56,807.23 L1259.23,808.76 L1261.93,810.23 L1264.68,811.65 L1267.48,813.02 L1270.32,814.33 L1273.21,815.59 L1276.15,816.78 L1279.13,817.92" fill="none" stroke="#000" stroke-width="2.2" stroke-linejoin="round"/>
<path d="M132.40,118.46 L135.41,118.39 L138.43,118.32 L141.45,118.27 L144.47,118.22 L147.48,118.18 L150.50,118.15 L153.52,118.12 L156.53,118.11 L159.55,118.10 L162.56,118.10 L165.58,118.10 L168.59,118.12 L171.61,118.14 L174.62,118.17 L177.64,118.21 L180.65,118.25 L183.66,118.30 L186.68,118.35 L189.69,118.42 L192.70,118.49 L195.72,118.56 L198.73,118.64 L201.74,118.73 L204.75,118.82 L207.76,118.92 L210.78,119.03 L213.79,119.14 L216.80,119.25 L219.81,119.37 L222.82,119.50 L225.83,119.63 L228.84,119.76 L231.85,119.90 L234.86,120.04 L237.87,120.19 L240.88,120.34 L243.89,120.50 L246.90,120.66 L249.90,120.82 L252.91,120.99 L255.92,121.16 L258.93,121.34 L261.94,121.52 L264.95,121.70 L267.95,121.88 L270.96,122.07 L273.97,122.26 L276.98,122.45 L279.98,122.65 L282.99,122.85 L286.00,123.04 L289.00,123.25 L292.01,123.45 L295.02,123.66 L298.02,123.86 L301.03,124.07 L304.04,124.28 L307.04,124.49 L310.05,124.71 L313.06,124.92 L316.06,125.13 L319.07,125.35 L322.07,125.57 L325.08,125.78 L328.08,126.00 L331.09,126.22 L334.10,126.44 L337.10,126.66 L340.11,126.88 L343.11,127.10 L346.12,127.32 L349.12,127.54 L352.13,127.77 L355.13,127.99 L358.14,128.21 L361.15,128.44 L364.15,128.66 L367.16,128.88 L370.16,129.11 L373.17,129.33 L376.17,129.55 L379.18,129.78 L382.19,130.00 L385.19,130.22 L388.20,130.45 L391.20,130.67 L394.21,130.89 L397.22,131.11 L400.22,131.33 L403.23,131.56 L406.24,131.78 L409.24,132.00 L412.25,132.23 L415.25,132.47 L418.26,132.71 L421.26,132.97 L424.26,133.24 L427.26,133.52 L430.26,133.82 L433.25,134.14 L436.25,134.47 L439.24,134.82 L442.23,135.19 L445.21,135.57 L448.20,135.97 L451.18,136.39 L454.16,136.83 L457.14,137.28 L460.11,137.75 L463.08,138.23 L466.05,138.73 L469.02,139.25 L471.99,139.78 L474.95,140.33 L477.91,140.89 L480.87,141.47 L483.82,142.06 L486.77,142.67 L489.72,143.29 L492.67,143.93 L495.61,144.58 L498.55,145.24 L501.49,145.92 L504.42,146.62 L507.36,147.32 L510.28,148.04 L513.21,148.78 L516.13,149.52 L519.05,150.28 L521.97,151.06 L524.88,151.84 L527.80,152.64 L530.70,153.45 L533.61,154.27 L536.51,155.11 L539.40,155.96 L542.30,156.82 L545.18,157.70 L548.06,158.60 L550.94,159.51 L553.81,160.44 L556.67,161.39 L559.53,162.35 L562.38,163.34 L565.22,164.34 L568.06,165.37 L570.88,166.42 L573.70,167.49 L576.51,168.58 L579.30,169.69 L582.09,170.83 L584.87,171.99 L587.64,173.18 L590.39,174.39 L593.14,175.63 L595.87,176.90 L598.60,178.19 L601.31,179.50 L604.00,180.84 L606.69,182.21 L609.37,183.60 L612.03,185.01 L614.68,186.45 L617.31,187.91 L619.94,189.39 L622.55,190.90 L625.14,192.43 L627.73,193.99 L630.30,195.57 L632.85,197.17 L635.40,198.79 L637.92,200.43 L640.44,202.10 L642.94,203.78 L645.42,205.49 L647.89,207.22 L650.35,208.97 L652.79,210.75 L655.21,212.54 L657.62,214.35 L660.02,216.18 L662.39,218.04 L664.75,219.91 L667.10,221.80 L669.43,223.71 L671.74,225.64 L674.04,227.59 L676.32,229.56 L678.58,231.55 L680.83,233.55 L683.06,235.57 L685.27,237.61 L687.47,239.67 L689.65,241.75 L691.82,243.84 L693.97,245.95 L696.11,248.07 L698.23,250.21 L700.33,252.37 L702.42,254.54 L704.49,256.73 L706.55,258.93 L708.59,261.15 L710.61,263.38 L712.63,265.62 L714.62,267.88 L716.60,270.16 L718.57,272.45 L720.52,274.75 L722.45,277.06 L724.37,279.39 L726.28,281.73 L728.17,284.08 L730.04,286.45 L731.90,288.82 L733.75,291.21 L735.58,293.61 L737.40,296.02 L739.20,298.44 L740.99,300.88 L742.76,303.32 L744.52,305.77 L746.27,308.23 L748.00,310.71 L749.72,313.19 L751.42,315.68 L753.11,318.18 L754.78,320.69 L756.45,323.20 L758.09,325.73 L759.73,328.26 L761.35,330.80 L762.96,333.35 L764.55,335.91 L766.13,338.47 L767.70,341.04 L769.25,343.61 L770.80,346.20 L772.34,348.78 L773.87,351.37 L775.39,353.96 L776.91,356.56 L778.42,359.16 L779.93,361.77 L781.43,364.37 L782.93,366.98 L784.43,369.59 L785.93,372.20 L787.42,374.81 L788.92,377.42 L790.42,380.03 L791.92,382.64 L793.43,385.25 L794.94,387.85 L796.45,390.46 L797.96,393.06 L799.48,395.67 L800.99,398.28 L802.50,400.88 L804.00,403.49 L805.50,406.11 L806.99,408.73 L808.47,411.35 L809.94,413.98 L811.40,416.61 L812.85,419.25 L814.29,421.89 L815.72,424.54 L817.14,427.20 L818.54,429.86 L819.94,432.53 L821.33,435.20 L822.70,437.88 L824.07,440.56 L825.43,443.25 L826.78,445.94 L828.12,448.63 L829.45,451.33 L830.78,454.04 L832.10,456.74 L833.41,459.45 L834.71,462.17 L836.01,464.89 L837.30,467.61 L838.59,470.33 L839.87,473.06 L841.14,475.79 L842.41,478.53 L843.67,481.26 L844.93,484.00 L846.18,486.74 L847.43,489.48 L848.68,492.23 L849.92,494.98 L851.16,497.72 L852.40,500.47 L853.63,503.23 L854.86,505.98 L856.09,508.73 L857.32,511.49 L858.55,514.24 L859.77,517.00 L860.99,519.76 L862.22,522.51 L863.44,525.27 L864.66,528.03 L865.89,530.79 L867.11,533.54 L868.33,536.30 L869.56,539.06 L870.78,541.81 L872.01,544.57 L873.24,547.32 L874.47,550.07 L875.71,552.82 L876.94,555.58 L878.18,558.32 L879.43,561.07 L880.67,563.82 L881.92,566.56 L883.18,569.30 L884.44,572.04 L885.70,574.78 L886.97,577.51 L888.24,580.24 L889.52,582.97 L890.81,585.69 L892.10,588.42 L893.40,591.13 L894.70,593.85 L896.02,596.56 L897.34,599.27 L898.66,601.97 L900.00,604.67 L901.34,607.37 L902.69,610.06 L904.05,612.75 L905.42,615.43" fill="none" stroke="#000" stroke-width="2.2" stroke-linejoin="round"/>
<path d="M132.40,117.49 L135.41,117.65 L138.43,117.80 L141.44,117.94 L144.45,118.06 L147.46,118.17 L150.48,118.27 L153.49,118.36 L156.50,118.44 L159.52,118.51 L162.53,118.57 L165.54,118.62 L168.56,118.66 L171.57,118.69 L174.58,118.71 L177.60,118.72 L180.61,118.73 L183.62,118.72 L186.64,118.71 L189.65,118.70 L192.67,118.67 L195.68,118.64 L198.69,118.61 L201.71,118.56 L204.72,118.52 L207.73,118.46 L210.75,118.41 L213.76,118.35 L216.78,118.28 L219.79,118.21 L222.80,118.14 L225.82,118.06 L228.83,117.98 L231.84,117.90 L234.86,117.81 L237.87,117.73 L240.88,117.64 L243.90,117.55 L246.91,117.46 L249.92,117.37 L252.94,117.28 L255.95,117.19 L258.96,117.10 L261.98,117.02 L264.99,116.93 L268.00,116.84 L271.02,116.76 L274.03,116.68 L277.04,116.60 L280.05,116.52 L283.07,116.44 L286.08,116.37 L289.09,116.31 L292.10,116.25 L295.12,116.19 L298.13,116.13 L301.14,116.09 L304.15,116.04 L307.16,116.01 L310.17,115.97 L313.18,115.95 L316.20,115.93 L319.21,115.92 L322.22,115.91 L325.23,115.91 L328.24,115.92 L331.25,115.94 L334.26,115.96 L337.27,115.99 L340.28,116.02 L343.29,116.07 L346.30,116.12 L349.31,116.17 L352.32,116.24 L355.33,116.31 L358.34,116.39 L361.34,116.48 L364.35,116.57 L367.36,116.67 L370.37,116.78 L373.38,116.90 L376.39,117.02 L379.39,117.16 L382.40,117.30 L385.41,117.45 L388.42,117.60 L391.42,117.77 L394.43,117.93 L397.44,118.11 L400.44,118.29 L403.45,118.47 L406.46,118.66 L409.47,118.85 L412.47,119.04 L415.48,119.23 L418.49,119.43 L421.50,119.63 L424.50,119.83 L427.51,120.02 L430.52,120.22 L433.53,120.42 L436.53,120.62 L439.54,120.82 L442.55,121.01 L445.56,121.20 L448.57,121.39 L451.58,121.58 L454.59,121.76 L457.60,121.94 L460.61,122.13 L463.61,122.31 L466.62,122.49 L469.63,122.67 L472.64,122.85 L475.65,123.04 L478.66,123.22 L481.67,123.41 L484.68,123.59 L487.68,123.78 L490.69,123.98 L493.70,124.17 L496.70,124.37 L499.71,124.58 L502.72,124.78 L505.72,125.00 L508.73,125.21 L511.73,125.43 L514.73,125.66 L517.73,125.90 L520.74,126.14 L523.74,126.39 L526.74,126.64 L529.74,126.90 L532.74,127.17 L535.73,127.45 L538.73,127.74 L541.73,128.03 L544.72,128.33 L547.71,128.65 L550.71,128.96 L553.70,129.29 L556.69,129.63 L559.68,129.97 L562.67,130.33 L565.66,130.69 L568.65,131.06 L571.63,131.44 L574.62,131.82 L577.61,132.22 L580.59,132.63 L583.57,133.04 L586.56,133.46 L589.54,133.90 L592.52,134.34 L595.50,134.79 L598.48,135.25 L601.46,135.72 L604.43,136.20 L607.41,136.69 L610.38,137.19 L613.36,137.70 L616.33,138.23 L619.30,138.76 L622.26,139.30 L625.23,139.86 L628.20,140.42 L631.16,141.00 L634.12,141.59 L637.08,142.19 L640.03,142.81 L642.99,143.43 L645.94,144.07 L648.89,144.72 L651.83,145.39 L654.77,146.07 L657.71,146.76 L660.65,147.47 L663.58,148.19 L666.50,148.93 L669.42,149.69 L672.34,150.47 L675.25,151.26 L678.15,152.07 L681.05,152.91 L683.94,153.76 L686.83,154.63 L689.71,155.52 L692.58,156.44 L695.44,157.37 L698.29,158.33 L701.14,159.31 L703.98,160.32 L706.80,161.35 L709.62,162.40 L712.43,163.47 L715.23,164.57 L718.02,165.70 L720.80,166.85 L723.57,168.02 L726.32,169.22 L729.07,170.44 L731.81,171.68 L734.53,172.96 L737.24,174.25 L739.94,175.57 L742.63,176.92 L745.30,178.29 L747.96,179.68 L750.61,181.10 L753.25,182.55 L755.87,184.02 L758.48,185.52 L761.07,187.04 L763.65,188.58 L766.22,190.15 L768.78,191.74 L771.32,193.35 L773.85,194.99 L776.36,196.65 L778.87,198.33 L781.36,200.02 L783.83,201.74 L786.30,203.49 L788.75,205.25 L791.19,207.03 L793.61,208.82 L796.03,210.64 L798.43,212.48 L800.81,214.33 L803.19,216.20 L805.55,218.09 L807.90,219.99 L810.24,221.91 L812.56,223.85 L814.88,225.80 L817.18,227.77 L819.46,229.75 L821.74,231.74 L824.00,233.75 L826.25,235.78 L828.49,237.81 L830.72,239.86 L832.93,241.92 L835.14,243.99 L837.33,246.08 L839.50,248.17 L841.67,250.28 L843.82,252.40 L845.96,254.54 L848.08,256.69 L850.18,258.85 L852.28,261.02 L854.35,263.21 L856.42,265.41 L858.46,267.62 L860.49,269.85 L862.50,272.09 L864.50,274.34 L866.47,276.61 L868.43,278.89 L870.37,281.19 L872.30,283.50 L874.20,285.83 L876.08,288.17 L877.95,290.53 L879.79,292.90 L881.62,295.28 L883.42,297.68 L885.21,300.10 L886.98,302.52 L888.73,304.96 L890.47,307.42 L892.19,309.88 L893.89,312.36 L895.58,314.84 L897.25,317.34 L898.91,319.85 L900.56,322.37 L902.19,324.89 L903.81,327.43 L905.41,329.98 L907.00,332.53 L908.59,335.09 L910.16,337.66 L911.72,340.24 L913.27,342.82 L914.81,345.41 L916.34,348.00 L917.87,350.60 L919.38,353.21 L920.89,355.82 L922.39,358.43 L923.88,361.05 L925.37,363.67 L926.84,366.30 L928.31,368.93 L929.78,371.56 L931.23,374.20 L932.68,376.85 L934.12,379.49 L935.56,382.15 L936.99,384.80 L938.41,387.46 L939.82,390.12 L941.23,392.79 L942.63,395.46 L944.03,398.13 L945.42,400.81 L946.80,403.49 L948.18,406.17 L949.55,408.86 L950.91,411.55 L952.27,414.24 L953.63,416.94 L954.97,419.64 L956.32,422.34 L957.65,425.04 L958.98,427.75 L960.31,430.46 L961.63,433.17 L962.94,435.89 L964.25,438.60 L965.56,441.32 L966.86,444.05 L968.15,446.77 L969.44,449.50 L970.73,452.22 L972.01,454.95 L973.28,457.69 L974.56,460.42 L975.82,463.16 L977.09,465.89 L978.34,468.63 L979.60,471.37 L980.85,474.12 L982.09,476.86 L983.34,479.61 L984.58,482.35 L985.81,485.10 L987.05,487.85 L988.28,490.60 L989.51,493.35 L990.74,496.10 L991.97,498.85 L993.19,501.60 L994.42,504.35 L995.64,507.10 L996.86,509.85 L998.09,512.61 L999.31,515.36 L1000.54,518.11 L1001.76,520.86 L1002.99,523.61 L1004.22,526.36 L1005.44,529.11 L1006.68,531.86 L1007.91,534.60 L1009.14,537.35 L1010.38,540.09 L1011.62,542.84 L1012.87,545.58 L1014.12,548.32 L1015.37,551.05 L1016.62,553.79 L1017.89,556.53 L1019.15,559.26 L1020.42,561.99 L1021.70,564.72 L1022.98,567.44 L1024.26,570.17 L1025.56,572.89 L1026.86,575.60 L1028.16,578.32 L1029.48,581.03 L1030.80,583.74 L1032.12,586.45 L1033.46,589.15 L1034.80,591.85 L1036.16,594.54 L1037.52,597.23 L1038.89,599.92 L1040.26,602.61 L1041.65,605.29 L1043.05,607.96 L1044.46,610.64 L1045.88,613.30 L1047.30,615.97" fill="none" stroke="#000" stroke-width="2.2" stroke-linejoin="round"/>
<path d="M132.40,116.82 L135.42,116.68 L138.43,116.55 L141.45,116.45 L144.46,116.37 L147.47,116.30 L150.49,116.24 L153.50,116.21 L156.51,116.18 L159.52,116.17 L162.53,116.17 L165.53,116.19 L168.54,116.21 L171.55,116.25 L174.55,116.30 L177.56,116.35 L180.56,116.41 L183.57,116.48 L186.57,116.56 L189.58,116.64 L192.58,116.73 L195.58,116.82 L198.59,116.92 L201.59,117.02 L204.59,117.12 L207.60,117.22 L210.60,117.32 L213.60,117.42 L216.60,117.52 L219.61,117.62 L222.61,117.71 L225.61,117.80 L228.62,117.89 L231.62,117.97 L234.63,118.04 L237.63,118.11 L240.64,118.17 L243.64,118.23 L246.65,118.27 L249.66,118.30 L252.66,118.33 L255.67,118.34 L258.68,118.34 L261.69,118.34 L264.70,118.32 L267.71,118.30 L270.72,118.27 L273.73,118.23 L276.74,118.19 L279.76,118.14 L282.77,118.09 L285.78,118.03 L288.79,117.96 L291.80,117.89 L294.82,117.82 L297.83,117.75 L300.84,117.67 L303.85,117.60 L306.87,117.52 L309.88,117.44 L312.89,117.36 L315.90,117.28 L318.91,117.21 L321.92,117.13 L324.94,117.06 L327.95,116.99 L330.96,116.92 L333.97,116.86 L336.97,116.80 L339.98,116.75 L342.99,116.70 L346.00,116.66 L349.01,116.62 L352.01,116.59 L355.02,116.56 L358.02,116.54 L361.03,116.52 L364.03,116.51 L367.04,116.50 L370.04,116.49 L373.04,116.49 L376.05,116.50 L379.05,116.51 L382.05,116.52 L385.05,116.54 L388.05,116.56 L391.06,116.59 L394.06,116.62 L397.06,116.65 L400.06,116.69 L403.06,116.73 L406.06,116.77 L409.06,116.82 L412.06,116.87 L415.06,116.93 L418.07,116.98 L421.07,117.04 L424.07,117.10 L427.07,117.17 L430.07,117.24 L433.07,117.31 L436.07,117.38 L439.07,117.45 L442.08,117.53 L445.08,117.61 L448.08,117.69 L451.08,117.77 L454.09,117.86 L457.09,117.94 L460.09,118.03 L463.10,118.12 L466.10,118.21 L469.11,118.30 L472.11,118.39 L475.12,118.49 L478.13,118.58 L481.13,118.68 L484.14,118.78 L487.15,118.88 L490.16,118.97 L493.17,119.07 L496.17,119.18 L499.18,119.28 L502.19,119.38 L505.20,119.49 L508.21,119.60 L511.23,119.71 L514.24,119.83 L517.25,119.94 L520.26,120.06 L523.27,120.18 L526.28,120.31 L529.29,120.44 L532.30,120.57 L535.31,120.70 L538.33,120.84 L541.34,120.98 L544.35,121.13 L547.36,121.28 L550.37,121.43 L553.38,121.59 L556.39,121.75 L559.40,121.92 L562.40,122.09 L565.41,122.27 L568.42,122.45 L571.43,122.64 L574.43,122.83 L577.44,123.03 L580.45,123.23 L583.45,123.44 L586.45,123.66 L589.46,123.88 L592.46,124.11 L595.46,124.34 L598.46,124.58 L601.46,124.83 L604.46,125.09 L607.46,125.35 L610.46,125.62 L613.45,125.90 L616.45,126.18 L619.44,126.47 L622.43,126.77 L625.43,127.08 L628.42,127.40 L631.40,127.72 L634.39,128.05 L637.38,128.40 L640.36,128.75 L643.35,129.10 L646.33,129.47 L649.31,129.85 L652.29,130.24 L655.27,130.63 L658.24,131.04 L661.22,131.46 L664.19,131.88 L667.16,132.32 L670.13,132.76 L673.09,133.22 L676.06,133.69 L679.02,134.16 L681.99,134.65 L684.94,135.15 L687.90,135.66 L690.86,136.19 L693.81,136.72 L696.76,137.27 L699.71,137.82 L702.66,138.39 L705.61,138.97 L708.55,139.57 L711.49,140.17 L714.43,140.79 L717.36,141.42 L720.30,142.07 L723.23,142.72 L726.16,143.39 L729.08,144.08 L732.01,144.78 L734.93,145.49 L737.85,146.21 L740.76,146.95 L743.68,147.70 L746.59,148.47 L749.49,149.25 L752.40,150.05 L755.30,150.86 L758.20,151.68 L761.09,152.52 L763.98,153.38 L766.87,154.26 L769.75,155.15 L772.62,156.06 L775.49,156.99 L778.35,157.94 L781.21,158.90 L784.06,159.89 L786.90,160.90 L789.73,161.93 L792.55,162.98 L795.37,164.05 L798.17,165.14 L800.97,166.26 L803.75,167.40 L806.52,168.56 L809.29,169.75 L812.04,170.97 L814.77,172.20 L817.50,173.47 L820.21,174.76 L822.91,176.08 L825.60,177.42 L828.27,178.79 L830.93,180.20 L833.57,181.63 L836.20,183.08 L838.81,184.57 L841.40,186.09 L843.99,187.63 L846.55,189.19 L849.11,190.79 L851.64,192.41 L854.17,194.05 L856.67,195.72 L859.17,197.41 L861.65,199.12 L864.11,200.85 L866.56,202.61 L869.00,204.39 L871.42,206.19 L873.83,208.01 L876.22,209.85 L878.61,211.70 L880.97,213.58 L883.33,215.47 L885.67,217.38 L887.99,219.31 L890.30,221.25 L892.60,223.21 L894.89,225.18 L897.16,227.17 L899.42,229.17 L901.67,231.19 L903.90,233.21 L906.12,235.25 L908.33,237.30 L910.53,239.36 L912.71,241.43 L914.88,243.51 L917.04,245.60 L919.18,247.70 L921.31,249.82 L923.42,251.94 L925.52,254.08 L927.60,256.24 L929.66,258.41 L931.70,260.60 L933.72,262.81 L935.73,265.04 L937.71,267.28 L939.67,269.55 L941.61,271.84 L943.53,274.14 L945.43,276.47 L947.32,278.80 L949.19,281.15 L951.05,283.51 L952.91,285.88 L954.75,288.26 L956.59,290.64 L958.43,293.02 L960.26,295.41 L962.08,297.81 L963.90,300.21 L965.71,302.61 L967.51,305.02 L969.31,307.43 L971.09,309.86 L972.87,312.29 L974.64,314.72 L976.39,317.16 L978.13,319.61 L979.87,322.07 L981.58,324.54 L983.29,327.01 L984.98,329.49 L986.66,331.99 L988.32,334.49 L989.97,337.00 L991.61,339.52 L993.23,342.04 L994.84,344.58 L996.43,347.12 L998.02,349.67 L999.59,352.23 L1001.15,354.80 L1002.69,357.37 L1004.23,359.96 L1005.75,362.54 L1007.26,365.14 L1008.77,367.74 L1010.26,370.35 L1011.74,372.96 L1013.21,375.58 L1014.67,378.21 L1016.12,380.84 L1017.57,383.48 L1019.00,386.12 L1020.42,388.77 L1021.84,391.42 L1023.25,394.08 L1024.65,396.74 L1026.04,399.41 L1027.43,402.08 L1028.81,404.76 L1030.18,407.44 L1031.55,410.12 L1032.90,412.81 L1034.26,415.50 L1035.60,418.19 L1036.95,420.88 L1038.28,423.58 L1039.62,426.29 L1040.94,428.99 L1042.27,431.70 L1043.58,434.40 L1044.90,437.11 L1046.21,439.83 L1047.52,442.54 L1048.82,445.26 L1050.12,447.97 L1051.42,450.69 L1052.72,453.41 L1054.02,456.13 L1055.31,458.85 L1056.60,461.57 L1057.89,464.28 L1059.18,467.00 L1060.47,469.72 L1061.76,472.44 L1063.04,475.16 L1064.33,477.88 L1065.61,480.60 L1066.90,483.32 L1068.18,486.04 L1069.46,488.76 L1070.74,491.48 L1072.02,494.21 L1073.29,496.93 L1074.57,499.65 L1075.84,502.37 L1077.11,505.09 L1078.38,507.82 L1079.65,510.54 L1080.92,513.27 L1082.18,515.99 L1083.45,518.72 L1084.71,521.45 L1085.97,524.17 L1087.23,526.90 L1088.48,529.63 L1089.74,532.36 L1090.99,535.09 L1092.24,537.82 L1093.49,540.56 L1094.73,543.29 L1095.98,546.03 L1097.22,548.76 L1098.46,551.50 L1099.69,554.24 L1100.93,556.98 L1102.16,559.72 L1103.39,562.47 L1104.61,565.21 L1105.84,567.96 L1107.06,570.71 L1108.27,573.46 L1109.49,576.21 L1110.70,578.96 L1111.91,581.71 L1113.12,584.47 L1114.32,587.23 L1115.53,589.99 L1116.72,592.75 L1117.92,595.51 L1119.11,598.28 L1120.30,601.04 L1121.49,603.81 L1122.67,606.58 L1123.85,609.36 L1125.02,612.13 L1126.20,614.91" fill="none" stroke="#000" stroke-width="2.2" stroke-linejoin="round"/>
<path d="M783.91,633.29 L784.73,636.37 L785.95,639.19 L787.51,641.80 L789.34,644.24 L791.37,646.55 L793.52,648.77 L795.72,650.96 L797.87,653.17 L799.87,655.46 L801.62,657.90 L803.03,660.53 L804.14,663.34 L805.02,666.28 L805.76,669.29 L806.41,672.34 L807.06,675.37 L807.76,678.36 L808.58,681.28 L809.58,684.11 L810.81,686.83 L812.24,689.47 L813.75,692.09 L815.22,694.74 L816.64,697.44 L818.03,700.17 L819.42,702.90 L820.84,705.62 L822.31,708.30 L823.84,710.95 L825.42,713.57 L827.02,716.18 L828.64,718.77 L830.25,721.37 L831.84,723.98 L833.39,726.61 L834.91,729.27 L836.41,731.93 L837.91,734.60 L839.41,737.27 L840.93,739.92 L842.48,742.56 L844.08,745.18 L845.72,747.76 L847.40,750.33 L849.13,752.86 L850.89,755.37 L852.70,757.85 L854.54,760.30 L856.42,762.72 L858.34,765.10 L860.29,767.46 L862.28,769.79 L864.31,772.08 L866.37,774.34 L868.45,776.57 L870.57,778.77 L872.72,780.94 L874.90,783.08 L877.11,785.20 L879.34,787.30 L881.59,789.37 L883.87,791.43 L886.18,793.47 L888.50,795.49 L890.85,797.49 L893.23,799.45 L895.64,801.37 L898.09,803.23 L900.58,805.02 L903.11,806.72 L905.70,808.34 L908.34,809.84 L911.04,811.23 L913.80,812.48 L916.63,813.60 L919.53,814.56 L922.50,815.35 L925.56,815.97 L928.70,816.40" fill="none" stroke="#000" stroke-width="2.2" stroke-linejoin="round"/>
<g stroke="#000" stroke-width="3" fill="none">
<line x1="132" y1="305" x2="1330" y2="305" stroke-dasharray="24.5 8.5 3.5 8.5"/>
<line x1="132" y1="338.2" x2="1342" y2="338.2" stroke-dasharray="12 9"/>
<line x1="132" y1="354.5" x2="1330" y2="354.5" stroke-dasharray="24.5 8.5 3.5 8.5"/>
</g>
<path d="M1041.24,382.39 L1038.05,382.75 L1034.87,383.09 L1031.70,383.41 L1028.55,383.72 L1025.41,384.00 L1022.29,384.27 L1019.17,384.52 L1016.07,384.75 L1012.99,384.97 L1009.91,385.18 L1006.84,385.37 L1003.79,385.55 L1000.74,385.72 L997.70,385.87 L994.67,386.01 L991.65,386.15 L988.64,386.27 L985.63,386.39 L982.63,386.49 L979.64,386.59 L976.65,386.69 L973.67,386.78 L970.69,386.86 L967.72,386.94 L964.75,387.01 L961.78,387.08 L958.81,387.15 L955.85,387.22 L952.89,387.29 L949.92,387.35 L946.96,387.42 L944.00,387.49 L941.04,387.56 L938.07,387.64 L935.11,387.71 L932.14,387.79 L929.17,387.88 L926.20,387.97 L923.22,388.07 L920.24,388.18 L917.25,388.29 L914.26,388.41 L911.26,388.54 L908.26,388.68 L905.24,388.83 L902.23,389.00 L899.20,389.17 L896.16,389.36 L893.12,389.56 L890.06,389.77 L887.00,390.00 L883.92,390.25 L880.84,390.51 L877.74,390.79 L874.63,391.09 L871.51,391.41 L868.37,391.74 L865.22,392.10 L862.06,392.47 L858.88,392.87 L855.69,393.29 L852.50,393.74 L849.31,394.24 L846.14,394.78 L843.00,395.39 L839.91,396.06 L836.87,396.82 L833.90,397.67 L831.00,398.62 L828.20,399.68 L825.50,400.85 L822.90,402.16 L820.44,403.61 L818.11,405.20 L815.93,406.96 L813.91,408.88 L812.06,410.98 L810.39,413.26 L808.91,415.71 L807.61,418.29 L806.52,421.01 L805.62,423.82 L804.93,426.73 L804.45,429.70 L804.19,432.72 L804.14,435.77 L804.31,438.83 L804.72,441.89 L805.36,444.91 L806.22,447.90 L807.30,450.84 L808.55,453.73 L809.96,456.57 L811.50,459.36 L813.14,462.10 L814.86,464.78 L816.64,467.41 L818.44,469.98 L820.24,472.48 L822.03,474.92 L823.76,477.29 L825.42,479.60 L826.98,481.84" fill="none" stroke="#000" stroke-width="4" stroke-linejoin="round"/>
<path d="M826.96,482.25 L830.02,482.00 L833.09,481.76 L836.15,481.54 L839.22,481.35 L842.28,481.16 L845.34,481.00 L848.40,480.86 L851.46,480.73 L854.52,480.61 L857.58,480.52 L860.64,480.44 L863.70,480.38 L866.75,480.33 L869.81,480.30 L872.86,480.29 L875.92,480.29 L878.97,480.30 L882.02,480.33 L885.07,480.38 L888.12,480.44 L891.17,480.51 L894.22,480.60 L897.27,480.70 L900.32,480.82 L903.37,480.95 L906.41,481.09 L909.46,481.25 L912.50,481.42 L915.54,481.60 L918.59,481.80 L921.63,482.01 L924.67,482.22 L927.71,482.46 L930.75,482.70 L933.79,482.95 L936.83,483.22 L939.86,483.50 L942.90,483.79 L945.94,484.08 L948.97,484.39 L952.00,484.71 L955.04,485.04 L958.07,485.38 L961.10,485.73 L964.13,486.09 L967.16,486.46 L970.19,486.83 L973.22,487.22 L976.24,487.61 L979.27,488.02 L982.30,488.43 L985.32,488.85 L988.34,489.27 L991.37,489.71 L994.39,490.15 L997.41,490.60 L1000.43,491.06 L1003.45,491.52 L1006.47,491.99 L1009.49,492.46 L1012.51,492.95 L1015.52,493.43 L1018.54,493.93 L1021.55,494.43 L1024.57,494.93 L1027.58,495.44 L1030.59,495.95 L1033.60,496.47 L1036.61,497.00 L1039.62,497.52 L1042.63,498.06 L1045.64,498.59 L1048.65,499.13 L1051.65,499.68 L1054.66,500.22 L1057.66,500.77 L1060.67,501.32 L1063.67,501.88 L1066.67,502.44 L1069.67,503.00 L1072.67,503.56 L1075.67,504.12 L1078.67,504.68 L1081.67,505.25 L1084.66,505.82 L1087.66,506.39 L1090.65,506.96 L1093.65,507.53" fill="none" stroke="#000" stroke-width="4" stroke-linejoin="round"/>
<path d="M808.97,449.15 L806.20,450.48 L803.44,451.79 L800.67,453.09 L797.91,454.38 L795.15,455.66 L792.39,456.94 L789.63,458.22 L786.88,459.49 L784.14,460.77 L781.40,462.05 L778.67,463.34 L775.96,464.65 L773.25,465.96 L770.56,467.30 L767.88,468.65 L765.21,470.02 L762.56,471.41 L759.92,472.84 L757.30,474.29 L754.71,475.77 L752.13,477.29 L749.57,478.84 L747.03,480.43 L744.52,482.07 L742.03,483.75 L739.57,485.47 L737.13,487.25 L734.72,489.08 L732.34,490.97 L729.98,492.91 L727.66,494.91 L725.37,496.97 L723.12,499.11 L720.90,501.30 L718.73,503.57 L716.61,505.90 L714.57,508.29 L712.60,510.74 L710.74,513.26 L708.97,515.83 L707.33,518.46 L705.81,521.14 L704.44,523.88 L703.22,526.67 L702.17,529.51 L701.29,532.40 L700.61,535.33 L700.12,538.31 L699.84,541.33 L699.78,544.36 L699.93,547.39 L700.29,550.38 L700.88,553.31 L701.67,556.16 L702.69,558.90 L703.93,561.51 L705.39,563.96 L707.07,566.25 L708.95,568.36 L711.02,570.32 L713.27,572.14 L715.66,573.81 L718.20,575.36 L720.85,576.78 L723.62,578.09 L726.47,579.30 L729.39,580.42 L732.38,581.45 L735.40,582.40 L738.45,583.28 L741.50,584.11 L744.55,584.88 L747.60,585.61 L750.64,586.28 L753.68,586.92 L756.71,587.50 L759.74,588.05 L762.77,588.56 L765.79,589.02 L768.81,589.46 L771.83,589.85 L774.84,590.22 L777.85,590.56 L780.86,590.86 L783.86,591.15 L786.87,591.40 L789.87,591.64 L792.87,591.85 L795.87,592.05 L798.87,592.23 L801.87,592.39 L804.87,592.54 L807.86,592.68 L810.86,592.81 L813.86,592.93 L816.86,593.05 L819.86,593.16 L822.86,593.28 L825.86,593.39 L828.86,593.51 L831.87,593.63 L834.87,593.75 L837.88,593.89 L840.89,594.02 L843.91,594.17 L846.92,594.31 L849.94,594.47 L852.96,594.62 L855.97,594.78 L859.00,594.94 L862.02,595.10 L865.04,595.26 L868.07,595.42 L871.09,595.59 L874.12,595.75 L877.15,595.91 L880.18,596.07 L883.21,596.23 L886.24,596.38 L889.27,596.54 L892.30,596.69 L895.34,596.83 L898.37,596.97 L901.40,597.11 L904.44,597.23 L907.47,597.36 L910.51,597.47 L913.55,597.58 L916.58,597.68 L919.62,597.77 L922.66,597.86 L925.69,597.93 L928.73,597.99 L931.76,598.05 L934.80,598.09 L937.83,598.12 L940.87,598.13 L943.90,598.14 L946.94,598.13 L949.97,598.11 L953.01,598.07 L956.04,598.02 L959.07,597.95 L962.10,597.87 L965.13,597.78 L968.16,597.67 L971.19,597.54 L974.21,597.40 L977.24,597.25 L980.26,597.08 L983.29,596.89 L986.31,596.69 L989.33,596.47 L992.35,596.24 L995.36,596.00 L998.38,595.73 L1001.39,595.45 L1004.40,595.16 L1007.41,594.85 L1010.42,594.52 L1013.42,594.18 L1016.43,593.82 L1019.43,593.44 L1022.43,593.05 L1025.42,592.64 L1028.42,592.22 L1031.41,591.78 L1034.40,591.32 L1037.38,590.85 L1040.36,590.35 L1043.34,589.84 L1046.32,589.32 L1049.30,588.78 L1052.27,588.22 L1055.24,587.64 L1058.20,587.04 L1061.17,586.43 L1064.12,585.80 L1067.08,585.15 L1070.03,584.49 L1072.98,583.81 L1075.92,583.10 L1078.87,582.39 L1081.80,581.65 L1084.74,580.89 L1087.67,580.12 L1090.59,579.33 L1093.51,578.52 L1096.43,577.69 L1099.35,576.84 L1102.26,575.98 L1105.16,575.09 L1108.06,574.19 L1110.96,573.26 L1113.85,572.32 L1116.74,571.36 L1119.62,570.38" fill="none" stroke="#000" stroke-width="4" stroke-linejoin="round"/>
<path d="M1042.32,497.76 L1040.16,494.20 L1038.82,490.81 L1038.23,487.62 L1038.33,484.61 L1039.05,481.80 L1040.33,479.20 L1042.11,476.80 L1044.31,474.61 L1046.88,472.63 L1049.75,470.88 L1052.85,469.35 L1056.12,468.05 L1059.50,466.99 L1062.91,466.16 L1066.30,465.58 L1069.60,465.25 L1072.75,465.17 L1075.68,465.34" fill="none" stroke="#000" stroke-width="4" stroke-linejoin="round"/>
<path d="M863.60,478.83 L863.51,475.63 L864.03,472.77 L865.08,470.21 L866.58,467.93 L868.45,465.89 L870.61,464.07 L872.96,462.43 L875.44,460.94 L878.03,459.60 L880.72,458.38 L883.49,457.28 L886.35,456.29 L889.27,455.40 L892.26,454.60 L895.30,453.89 L898.39,453.25 L901.52,452.66 L904.68,452.14 L907.85,451.65 L911.04,451.20 L914.23,450.77 L917.42,450.35 L920.60,449.94 L923.75,449.54 L926.90,449.13 L930.03,448.73 L933.15,448.33 L936.26,447.93 L939.35,447.53 L942.43,447.13 L945.50,446.74 L948.57,446.34 L951.62,445.95 L954.67,445.56 L957.71,445.18 L960.74,444.79 L963.76,444.41 L966.78,444.02 L969.79,443.64 L972.80,443.26 L975.81,442.88 L978.81,442.51 L981.81,442.13 L984.81,441.76 L987.81,441.38 L990.81,441.01 L993.81,440.64 L996.80,440.27 L999.81,439.90 L1002.81,439.54 L1005.81,439.17 L1008.82,438.81 L1011.84,438.44 L1014.86,438.08 L1017.88,437.72 L1020.91,437.36 L1023.95,437.00 L1027.00,436.64 L1030.05,436.28 L1033.12,435.93 L1036.19,435.57 L1039.28,435.22 L1042.37,434.86 L1045.48,434.51 L1048.60,434.16 L1051.73,433.80 L1054.88,433.45 L1058.04,433.10 L1061.21,432.75" fill="none" stroke="#000" stroke-width="4" stroke-linejoin="round" stroke-dasharray="12 4"/>
<line x1="132" y1="641" x2="949" y2="641" stroke="#000" stroke-width="4"/>
<path d="M948.94,641.23 L951.95,641.85 L954.94,642.48 L957.93,643.13 L960.92,643.81 L963.90,644.50 L966.88,645.20 L969.85,645.93 L972.82,646.67 L975.78,647.43 L978.74,648.20 L981.70,648.99 L984.65,649.79 L987.59,650.61 L990.54,651.44 L993.48,652.28 L996.42,653.13 L999.35,653.99 L1002.28,654.87 L1005.21,655.76 L1008.13,656.65 L1011.06,657.56 L1013.98,658.47 L1016.90,659.39 L1019.81,660.32 L1022.73,661.25 L1025.64,662.20 L1028.55,663.14 L1031.46,664.10 L1034.37,665.06 L1037.28,666.02 L1040.18,666.98 L1043.09,667.95 L1045.99,668.92 L1048.90,669.89 L1051.80,670.87 L1054.70,671.84 L1057.60,672.81 L1060.51,673.79 L1063.41,674.76 L1066.31,675.73 L1069.22,676.70 L1072.12,677.67 L1075.03,678.63 L1077.93,679.59 L1080.84,680.55 L1083.75,681.50 L1086.66,682.44 L1089.57,683.38 L1092.49,684.31 L1095.40,685.23 L1098.32,686.15 L1101.24,687.06 L1104.16,687.96 L1107.08,688.85 L1110.01,689.73 L1112.94,690.59 L1115.87,691.45 L1118.80,692.30 L1121.74,693.13 L1124.68,693.95 L1127.63,694.76 L1130.57,695.55 L1133.53,696.33 L1136.48,697.09 L1139.44,697.84 L1142.41,698.57 L1145.38,699.29 L1148.35,699.98 L1151.33,700.66 L1154.31,701.32 L1157.30,701.97 L1160.29,702.59 L1163.29,703.19 L1166.29,703.77 L1169.30,704.33 L1172.31,704.86 L1175.33,705.38 L1178.36,705.87 L1181.39,706.34 L1184.43,706.78 L1187.48,707.20" fill="none" stroke="#000" stroke-width="4" stroke-linejoin="round"/>
<rect x="510" y="614" width="52" height="20" fill="#fff"/>
<text x="513" y="630.7" font-size="16.5" textLength="49" lengthAdjust="spacingAndGlyphs">λ0,012</text>
<rect x="619" y="614" width="53" height="20" fill="#fff"/>
<text x="622" y="630.7" font-size="16.5" textLength="49" lengthAdjust="spacingAndGlyphs">λ0,032</text>
<rect x="765" y="614" width="34" height="20" fill="#fff"/>
<text x="767" y="630.7" font-size="16.5" textLength="31" lengthAdjust="spacingAndGlyphs">λ0,1</text>
<rect x="893" y="614" width="35" height="20" fill="#fff"/>
<text x="896" y="630.7" font-size="16.5" textLength="31" lengthAdjust="spacingAndGlyphs">λ0,3</text>
<rect x="1034" y="614" width="34" height="20" fill="#fff"/>
<text x="1042" y="630.7" font-size="16.5" textLength="18" lengthAdjust="spacingAndGlyphs">λ1</text>
<rect x="1118" y="614" width="31" height="20" fill="#fff"/>
<text x="1125" y="630.7" font-size="16.5" textLength="18" lengthAdjust="spacingAndGlyphs">λ2</text>
<rect x="825" y="411" width="12.5" height="16" fill="#fff"/>
<text x="827" y="424" font-size="14.5" textLength="8.5" lengthAdjust="spacingAndGlyphs">3</text>
<rect x="951.5" y="394.7" width="21.0" height="16.0" fill="#fff"/>
<text x="953.5" y="407.7" font-size="14.5" textLength="17" lengthAdjust="spacingAndGlyphs">10</text>
<rect x="1032.5" y="389.4" width="21.0" height="16.0" fill="#fff"/>
<text x="1034.5" y="402.4" font-size="14.5" textLength="17" lengthAdjust="spacingAndGlyphs">15</text>
<rect x="1054" y="438.4" width="21" height="16.0" fill="#fff"/>
<text x="1056" y="451.4" font-size="14.5" textLength="17" lengthAdjust="spacingAndGlyphs">60</text>
<rect x="978" y="449.6" width="21" height="16.0" fill="#fff"/>
<text x="980" y="462.6" font-size="14.5" textLength="17" lengthAdjust="spacingAndGlyphs">30</text>
<rect x="856" y="486.9" width="21" height="16.0" fill="#fff"/>
<text x="858" y="499.9" font-size="14.5" textLength="17" lengthAdjust="spacingAndGlyphs">40</text>
<rect x="1004" y="503.20000000000005" width="21" height="16.0" fill="#fff"/>
<text x="1006" y="516.2" font-size="14.5" textLength="17" lengthAdjust="spacingAndGlyphs">55</text>
<rect x="1089.5" y="515.5" width="21.0" height="16.0" fill="#fff"/>
<text x="1091.5" y="528.5" font-size="14.5" textLength="17" lengthAdjust="spacingAndGlyphs">20</text>
<rect x="732.5" y="495.9" width="21.0" height="16.0" fill="#fff"/>
<text x="734.5" y="508.9" font-size="14.5" textLength="17" lengthAdjust="spacingAndGlyphs">10</text>
<text x="439" y="414.9" font-size="25" font-weight="bold">A</text>
<text x="493" y="685" font-size="25" font-weight="bold" textLength="22.5" lengthAdjust="spacingAndGlyphs">M</text>
<text x="881.5" y="428.5" font-size="24" font-weight="bold" textLength="13" lengthAdjust="spacingAndGlyphs">F</text>
<text x="944.8" y="474.4" font-size="24" font-weight="bold">P</text>
<text x="917" y="547.6" font-size="24" font-weight="bold" textLength="36" lengthAdjust="spacingAndGlyphs">Zw</text>
<circle cx="703.1" cy="819" r="17.2" fill="#fff" stroke="#222" stroke-width="1.2"/>
<text x="701.6" y="825.8" font-size="18" text-anchor="middle" textLength="33" lengthAdjust="spacingAndGlyphs">623</text>
<circle cx="805" cy="819" r="17.2" fill="#fff" stroke="#222" stroke-width="1.2"/>
<text x="803.5" y="825.8" font-size="18" text-anchor="middle" textLength="33" lengthAdjust="spacingAndGlyphs">637</text>
<circle cx="947.5" cy="819" r="17.2" fill="#fff" stroke="#222" stroke-width="1.2"/>
<text x="946.0" y="825.8" font-size="18" text-anchor="middle" textLength="33" lengthAdjust="spacingAndGlyphs">584</text>
<circle cx="1074.7" cy="819" r="17.2" fill="#fff" stroke="#222" stroke-width="1.2"/>
<text x="1073.2" y="825.8" font-size="18" text-anchor="middle" textLength="33" lengthAdjust="spacingAndGlyphs">421</text>
<circle cx="1216.4" cy="819" r="17.2" fill="#fff" stroke="#222" stroke-width="1.2"/>
<text x="1214.9" y="825.8" font-size="18" text-anchor="middle" textLength="33" lengthAdjust="spacingAndGlyphs">312</text>
<circle cx="1298.3" cy="819" r="17.2" fill="#fff" stroke="#222" stroke-width="1.2"/>
<text x="1296.8" y="825.8" font-size="18" text-anchor="middle" textLength="33" lengthAdjust="spacingAndGlyphs">311</text>
<rect x="1337" y="813" width="56" height="24" fill="#fff"/>
<text x="1344" y="829.9" font-size="18" font-weight="bold" textLength="25" lengthAdjust="spacingAndGlyphs">HV</text>
<text x="1369.5" y="833.9" font-size="13" font-weight="bold" textLength="13.5" lengthAdjust="spacingAndGlyphs">10</text>
<rect x="1342.5" y="285.5" width="133" height="31.5" fill="#fff" stroke="#000" stroke-width="1.2"/>
<rect x="1342.5" y="320.5" width="133" height="31.5" fill="#fff" stroke="#000" stroke-width="1.2"/>
<rect x="1342.5" y="354.5" width="133" height="31.5" fill="#fff" stroke="#000" stroke-width="1.2"/>
<text x="1348.5" y="309.9" font-size="22" font-weight="bold" textLength="21" lengthAdjust="spacingAndGlyphs">Ac</text>
<text x="1373.5" y="314.4" font-size="15" font-weight="bold" textLength="9" lengthAdjust="spacingAndGlyphs">3</text>
<text x="1392.5" y="309.9" font-size="22" textLength="74" lengthAdjust="spacingAndGlyphs">(810°C)</text>
<text x="1343.5" y="344.6" font-size="22" font-weight="bold" textLength="21" lengthAdjust="spacingAndGlyphs">Ac</text>
<text x="1368.5" y="349.6" font-size="15" font-weight="bold" textLength="17" lengthAdjust="spacingAndGlyphs">1e</text>
<text x="1386.5" y="344.6" font-size="22" textLength="86" lengthAdjust="spacingAndGlyphs">(~760°C)</text>
<text x="1346" y="378.6" font-size="22" font-weight="bold" textLength="21" lengthAdjust="spacingAndGlyphs">Ac</text>
<text x="1371" y="383.6" font-size="15" font-weight="bold" textLength="17" lengthAdjust="spacingAndGlyphs">1b</text>
<text x="1395.5" y="378.6" font-size="22" textLength="74" lengthAdjust="spacingAndGlyphs">(735°C)</text>
<g transform="translate(59,511) rotate(-90)">
<text x="0" y="0" font-size="18.5" font-weight="bold" textLength="135" lengthAdjust="spacingAndGlyphs">Temperatur [°C]</text>
</g>
<rect x="53.7" y="328" width="2" height="41" fill="#000"/>
<path d="M48.7,330 L54.7,318 L60.7,330 Z" fill="#000"/>
<text x="117" y="868.8" font-size="18.5" textLength="20.5" lengthAdjust="spacingAndGlyphs">10</text>
<text x="138" y="862.3" font-size="12.5" textLength="10" lengthAdjust="spacingAndGlyphs">-1</text>
<text x="389" y="866" font-size="18.5" textLength="20.5" lengthAdjust="spacingAndGlyphs">10</text>
<text x="410" y="859.5" font-size="12.5" textLength="7" lengthAdjust="spacingAndGlyphs">0</text>
<text x="655.5" y="869" font-size="18.5" textLength="20.5" lengthAdjust="spacingAndGlyphs">10</text>
<text x="676.5" y="862.5" font-size="12.5" textLength="7" lengthAdjust="spacingAndGlyphs">1</text>
<text x="925.5" y="867.6" font-size="18.5" textLength="20.5" lengthAdjust="spacingAndGlyphs">10</text>
<text x="946.5" y="861.1" font-size="12.5" textLength="7" lengthAdjust="spacingAndGlyphs">2</text>
<text x="1196.5" y="867.6" font-size="18.5" textLength="20.5" lengthAdjust="spacingAndGlyphs">10</text>
<text x="1217.5" y="861.1" font-size="12.5" textLength="7" lengthAdjust="spacingAndGlyphs">3</text>
<text x="1457.5" y="867.6" font-size="18.5" textLength="20.5" lengthAdjust="spacingAndGlyphs">10</text>
<text x="1478.5" y="861.1" font-size="12.5" textLength="7" lengthAdjust="spacingAndGlyphs">4</text>
<text x="1495.5" y="867.6" font-size="18.5" font-weight="bold" textLength="21" lengthAdjust="spacingAndGlyphs">[s]</text>
<text x="115.5" y="906.7" font-size="18.5" font-weight="bold" textLength="33.5" lengthAdjust="spacingAndGlyphs">Zeit</text>
<rect x="160" y="899" width="40" height="2.3" fill="#000"/>
<path d="M198,893.8 L211,900.1 L198,906.4 Z" fill="#000"/>
<rect x="878" y="892.5" width="538" height="2" fill="#b0b0b0"/>
<rect x="878" y="884" width="1.5" height="10" fill="#8a8a8a"/>
<rect x="1147" y="884" width="1.5" height="10" fill="#8a8a8a"/>
<rect x="1415" y="884" width="1.5" height="10" fill="#8a8a8a"/>
<text x="876" y="917.8" font-size="18.5" textLength="9.5" lengthAdjust="spacingAndGlyphs">1</text>
<text x="1136.5" y="916.7" font-size="18.5" textLength="20.5" lengthAdjust="spacingAndGlyphs">10</text>
<text x="1402.5" y="916.7" font-size="18.5" textLength="20.5" lengthAdjust="spacingAndGlyphs">10</text>
<text x="1423.5" y="910" font-size="12.5" textLength="7" lengthAdjust="spacingAndGlyphs">2</text>
<text x="1441" y="916.7" font-size="18.5" font-weight="bold" textLength="45" lengthAdjust="spacingAndGlyphs">[min]</text>
<rect x="133.5" y="602.5" width="306" height="235" fill="#fff" stroke="#000" stroke-width="1.2"/>
<text x="147.5" y="619.4" font-size="18" font-weight="bold">A</text>
<text x="199" y="619.4" font-size="18" textLength="166" lengthAdjust="spacingAndGlyphs">Bereich d. Austenits</text>
<text x="147.5" y="642.7" font-size="18" font-weight="bold">F</text>
<text x="199" y="642.7" font-size="18" textLength="197.5" lengthAdjust="spacingAndGlyphs">Bereich d. Ferritbildung</text>
<text x="147.5" y="665.8" font-size="18" font-weight="bold">P</text>
<text x="199" y="665.8" font-size="18" textLength="196.5" lengthAdjust="spacingAndGlyphs">Bereich d. Perlitbildung</text>
<text x="147.5" y="688.9" font-size="18" font-weight="bold">Zw</text>
<text x="199" y="688.9" font-size="18" textLength="224.5" lengthAdjust="spacingAndGlyphs">Bereich d. Zwischenstufen-</text>
<text x="199" y="711" font-size="18" textLength="119" lengthAdjust="spacingAndGlyphs">gefügebildung</text>
<text x="147.5" y="734.5" font-size="18" font-weight="bold">M</text>
<text x="199" y="734.5" font-size="18" textLength="234" lengthAdjust="spacingAndGlyphs">Bereich d. Martensitbildung</text>
<text x="147.5" y="757.8" font-size="18" font-weight="bold" textLength="17" lengthAdjust="spacingAndGlyphs">M</text>
<text x="165" y="761.8" font-size="12" textLength="7.5" lengthAdjust="spacingAndGlyphs">S</text>
<text x="199" y="757.8" font-size="18" textLength="223.5" lengthAdjust="spacingAndGlyphs">Starttemperatur Martensit</text>
<text x="147.5" y="780.5" font-size="18" font-weight="bold">HV</text>
<text x="199" y="780.5" font-size="18" textLength="146" lengthAdjust="spacingAndGlyphs">Härtewerte in HV</text>
<text x="345.5" y="784.5" font-size="13.5" textLength="14" lengthAdjust="spacingAndGlyphs">10</text>
<text x="147.5" y="803.6" font-size="18" font-weight="bold">RA</text>
<text x="199" y="803.6" font-size="18" textLength="195.5" lengthAdjust="spacingAndGlyphs">Restaustenitgehalt in %</text>
<text x="147.5" y="825.8" font-size="18" font-weight="bold" textLength="50" lengthAdjust="spacingAndGlyphs">1;2;...</text>
<text x="199" y="825.8" font-size="18" textLength="157.5" lengthAdjust="spacingAndGlyphs">Gefügeanteile in %</text>
<text x="235.5" y="593" font-size="25.3" font-weight="bold" textLength="22.5" lengthAdjust="spacingAndGlyphs">M</text>
<text x="259.5" y="598.5" font-size="17.5" textLength="8.5" lengthAdjust="spacingAndGlyphs">S</text>
<text x="276.5" y="592.3" font-size="23.5" textLength="73.5" lengthAdjust="spacingAndGlyphs">(300°C)</text>
<rect x="1" y="1" width="1527" height="985" fill="none" stroke="#000" stroke-width="2"/>
</svg></body></html>
